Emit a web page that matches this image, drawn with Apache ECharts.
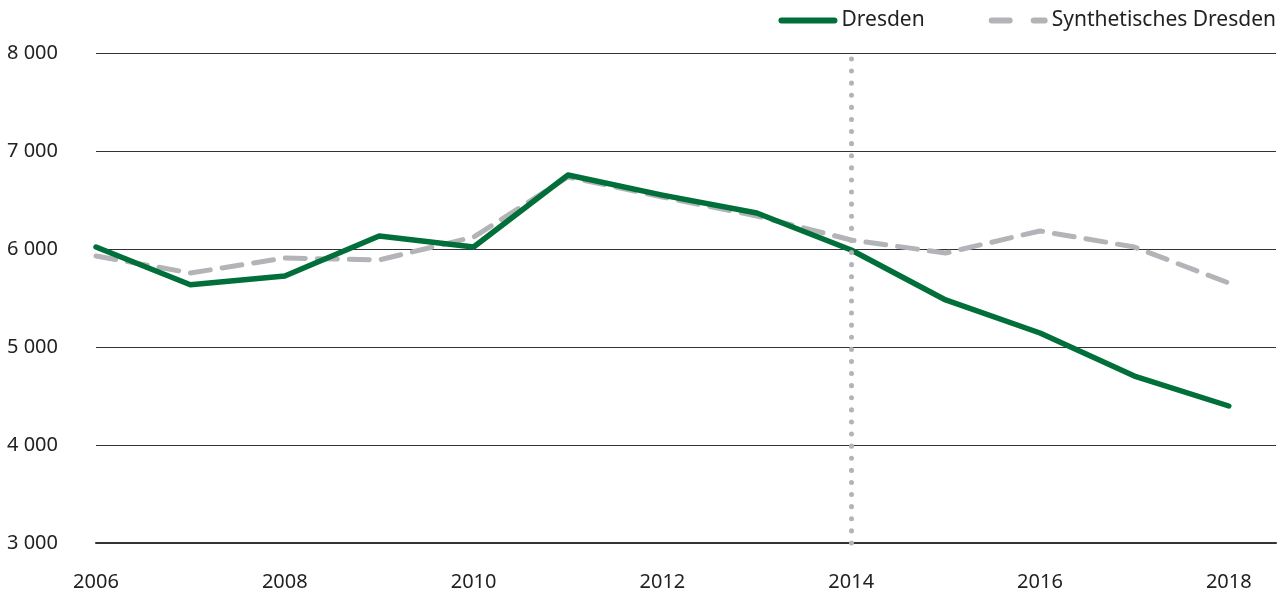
<!DOCTYPE html>
<html>
<head>
<meta charset="utf-8">
<script src="https://cdn.jsdelivr.net/npm/echarts@6/dist/echarts.min.js"></script>
<style>
  html, body { margin: 0; padding: 0; background: #fff; }
  #chart { width: 1287px; height: 594px; }
</style>
</head>
<body>
<div id="chart"></div>
<script>
// Jahre und Werte
const years = [2006, 2007, 2008, 2009, 2010, 2011, 2012, 2013, 2014, 2015, 2016, 2017, 2018]
const dresden = [6020, 5635, 5725, 6133, 6020, 6755, 6550, 6367, 5990, 5480, 5143, 4704, 4398]
const synthDresden = [5929, 5755, 5908, 5888, 6122, 6735, 6531, 6337, 6092, 5959, 6184, 6020, 5653]
const treatmentYear = 2014

const FONT = '"Noto Sans", sans-serif'
const green = '#006f3a'
const grey = '#b3b4b7'

// Legendensymbole: durchgezogen bzw. gestrichelt
const solidIcon = 'path://M3,0H56A3,3 0 0 1 56,6H3A3,3 0 0 1 3,0Z'
const dashIcon = 'path://M3,0H21A3,3 0 0 1 21,6H3A3,3 0 0 1 3,0Z M45,0H56A3,3 0 0 1 56,6H45A3,3 0 0 1 45,0Z'

const chart = echarts.init(document.getElementById('chart'))

const option = {
  animation: false,
  grid: { left: 96, right: 11, top: 53, bottom: 51 },
  legend: {
    right: 11,
    top: 10,
    padding: 0,
    itemWidth: 59,
    itemHeight: 6,
    itemGap: 64,
    textStyle: { fontFamily: FONT, fontSize: 21, color: '#222', padding: [0, 0, 0, -1] },
    data: [
      { name: 'Dresden', icon: solidIcon },
      { name: 'Synthetisches Dresden', icon: dashIcon }
    ]
  },
  xAxis: {
    type: 'value',
    min: 2006,
    max: 2018.5,
    interval: 2,
    axisLine: { show: true, onZero: false, lineStyle: { color: '#333', width: 2 } },
    axisTick: { show: false },
    splitLine: { show: false },
    axisLabel: {
      showMaxLabel: false,
      margin: 29,
      fontFamily: FONT,
      fontSize: 20,
      color: '#222',
      formatter: v => (Number.isInteger(v) ? String(v) : '')
    }
  },
  yAxis: {
    type: 'value',
    min: 3000,
    max: 8000,
    interval: 1000,
    axisLine: { show: false },
    axisTick: { show: false },
    splitLine: { lineStyle: { color: '#333', width: 1 } },
    axisLabel: {
      margin: 38,
      fontFamily: FONT,
      fontSize: 20,
      color: '#222',
      formatter: v => String(v).replace(/\B(?=(\d{3})+(?!\d))/g, ' ')
    }
  },
  series: [
    {
      name: 'Synthetisches Dresden',
      type: 'line',
      data: years.map((y, i) => [y, synthDresden[i]]),
      symbol: 'none',
      z: 2,
      lineStyle: { color: grey, width: 5, type: [20, 12], cap: 'round', join: 'round' },
      itemStyle: { color: grey },
      markLine: {
        silent: true,
        symbol: 'none',
        label: { show: false },
        lineStyle: { color: grey, width: 5, type: [0.1, 12], cap: 'round' },
        data: [{ xAxis: treatmentYear }]
      }
    },
    {
      name: 'Dresden',
      type: 'line',
      data: years.map((y, i) => [y, dresden[i]]),
      symbol: 'none',
      z: 3,
      lineStyle: { color: green, width: 5.5, join: 'round', cap: 'round' },
      itemStyle: { color: green }
    }
  ]
}

chart.setOption(option)
</script>
</body>
</html>
